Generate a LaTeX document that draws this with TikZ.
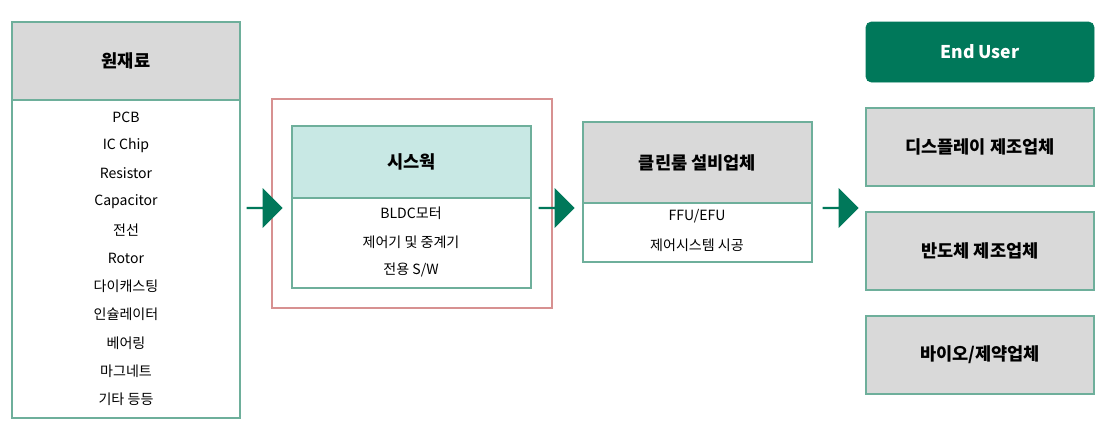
\documentclass[tikz,border=0pt]{standalone}
\usepackage{fontspec}
\setmainfont{Noto Sans CJK KR}
\usetikzlibrary{positioning,shapes.arrows}
\definecolor{teal}{RGB}{0,120,90}
\definecolor{lineg}{RGB}{110,175,155}
\definecolor{hdgray}{RGB}{217,217,217}
\definecolor{hdteal}{RGB}{200,232,228}
\definecolor{redline}{RGB}{215,145,145}
\tikzset{box/.style={draw=lineg, line width=0.9pt}}
\tikzset{head/.style={box, font=\fontsize{10}{12}\selectfont\bfseries}}
\tikzset{item/.style={font=\fontsize{8}{10}\selectfont}}
\tikzset{flow/.style={single arrow, fill=teal, minimum height=0.72cm, minimum width=0.8cm, single arrow head extend=0.12cm, inner sep=0pt}}
\begin{document}
\begin{tikzpicture}[x=0.02cm,y=-0.02cm]
\useasboundingbox (0,0) rectangle (1110,424);
%raw materials
\draw[box] (12,22) rectangle (240,418);
\draw[head,fill=hdgray] (12,22) rectangle (240,100) node[midway] (raw) {원재료};
\foreach \t [count=\i] in {PCB,IC Chip,Resistor,Capacitor,전선,Rotor,다이캐스팅,인슐레이터,베어링,마그네트,기타 등등}
  \node[item] (r\i) at (126,89+28.2*\i) {\t};
%company
\draw[draw=redline, line width=1.4pt] (272,99) rectangle (552,308);
\draw[box] (292,126) rectangle (531,288);
\draw[head,fill=hdteal, line width=1.4pt] (292,126) rectangle (531,198) node[midway] (sys) {시스웍};
\node[item] (s1) at (411,213) {BLDC모터};
\node[item] (s2) at (411,242) {제어기 및 중계기};
\node[item] (s3) at (411,270) {전용 S/W};
%clean room
\draw[box] (583,122) rectangle (812,262);
\draw[head,fill=hdgray] (583,122) rectangle (812,203) node[midway] (cr) {클린룸 설비업체};
\node[item] (c1) at (697,216) {FFU/EFU};
\node[item] (c2) at (697,245) {제어시스템 시공};
%end users
\draw[fill=teal, draw=teal, rounded corners=3pt] (866,22) rectangle (1094,82) node[midway, text=white, font=\fontsize{10}{12}\selectfont\bfseries] (eu) {End User};
\draw[head,fill=hdgray] (866,108) rectangle (1094,186) node[midway] (u1) {디스플레이 제조업체};
\draw[head,fill=hdgray] (866,212) rectangle (1094,290) node[midway] (u2) {반도체 제조업체};
\draw[head,fill=hdgray] (866,316) rectangle (1094,394) node[midway] (u3) {바이오/제약업체};
%arrows
\node[flow] (a1) at (264,208) {};
\node[flow] (a2) at (556,208) {};
\node[flow] (a3) at (840,208) {};
\end{tikzpicture}
\end{document}
